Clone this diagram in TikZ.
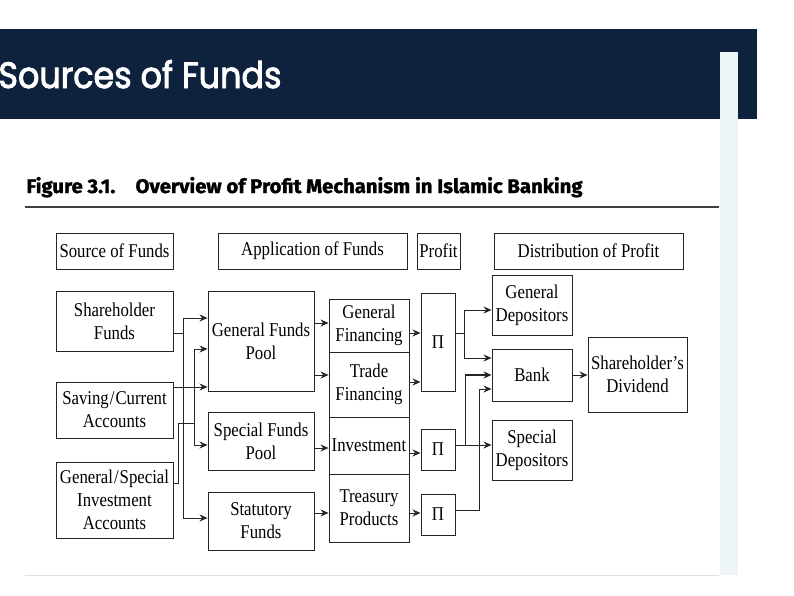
\documentclass[tikz,border=0pt]{standalone}
\usepackage{graphicx}
\usepackage{fontspec}
\setmainfont{Liberation Serif}
\newfontfamily\boxfont[FakeStretch=0.86, Ligatures=TeX]{Liberation Serif}
\newfontfamily\headfont[FakeBold=2.5]{Poppins}
\newfontfamily\capfont[FakeBold=1.5]{Fira Sans}
\usetikzlibrary{arrows.meta, positioning}

\definecolor{navyband}{HTML}{0E223D}
\definecolor{palebar}{HTML}{EDF5F9}

\begin{document}
\begin{tikzpicture}[x=1pt, y=-1pt, line width=0.9pt,
    box/.style={draw=black!85, rectangle, inner sep=1pt, align=center, font=\boxfont\fontsize{19.5}{23}\selectfont},
    flow/.style={-{Stealth[length=8pt,width=7pt]}, draw=black!85}]
    \useasboundingbox (0,0) rectangle (794,595);

    % Slide header
    \fill[navyband] (0,29) rectangle (757,119);
    \fill[palebar] (720,52) rectangle (738,575);
    \node (slidetitle) [anchor=base west, inner sep=0, text=white] at (-2,88) {\resizebox{283pt}{28pt}{\headfont Sources of Funds}};

    % Figure caption
    \node (figtitle) [anchor=base west, inner sep=0] at (26,193) {\resizebox{556pt}{16pt}{\capfont\bfseries Figure 3.1.\quad Overview of Profit Mechanism in Islamic Banking}};
    \draw[black!75, line width=1.2pt] (25,207) -- (719,207);
    \draw[black!12] (25,575) -- (719,575);

    % Column headings
    \node (srchead) [box, minimum width=117pt, minimum height=36pt] at (114.5,251) {Source of Funds};
    \node (apphead) [box, minimum width=189pt, minimum height=36pt] at (312.5,251) {Application of Funds};
    \node (profhead) [box, minimum width=43pt, minimum height=36pt] at (438.5,251) {Profit};
    \node (disthead) [box, minimum width=189pt, minimum height=36pt] at (588.5,251) {Distribution of Profit};

    % Sources
    \node (shf) [box, minimum width=117pt, minimum height=60pt] at (114.5,321) {Shareholder\\Funds};
    \node (sca) [box, minimum width=117pt, minimum height=56pt] at (114.5,410) {Saving\kern1pt/\kern1ptCurrent\\Accounts};
    \node (gsi) [box, minimum width=117pt, minimum height=76pt] at (114.5,500) {General\kern1pt/\kern1ptSpecial\\Investment\\Accounts};

    % Pools
    \node (gfp) [box, minimum width=106pt, minimum height=100pt] at (261,341) {General Funds\\Pool};
    \node (sfp) [box, minimum width=106pt, minimum height=58pt] at (261,441) {Special Funds\\Pool};
    \node (stf) [box, minimum width=106pt, minimum height=58pt] at (261,521) {Statutory\\Funds};

    % Applications
    \node (gfin) [box, minimum width=80pt, minimum height=53pt] at (369,325.5) {General\\Financing};
    \node (tfin) [box, minimum width=80pt, minimum height=65pt] at (369,384.5) {Trade\\Financing};
    \node (inv) [box, minimum width=80pt, minimum height=57pt] at (369,445.5) {Investment};
    \node (trs) [box, minimum width=80pt, minimum height=68pt] at (369,508) {Treasury\\Products};

    % Profit
    \node (pione) [box, minimum width=34pt, minimum height=98pt] at (438,342) {Π};
    \node (pitwo) [box, minimum width=34pt, minimum height=41pt] at (438,449.5) {Π};
    \node (pithree) [box, minimum width=34pt, minimum height=41pt] at (438,514.5) {Π};

    % Distribution
    \node (gdep) [box, minimum width=80pt, minimum height=60pt] at (532,305) {General\\Depositors};
    \node (bank) [box, minimum width=80pt, minimum height=52pt] at (532,375) {Bank};
    \node (sdep) [box, minimum width=80pt, minimum height=60pt] at (532,450) {Special\\Depositors};
    \node (div) [box, minimum width=99pt, minimum height=75pt] at (637.5,374.5) {Shareholder’s\\Dividend};

    % Sources to pools
    \draw[black!85] ([yshift=-12pt]shf.east) -- ++(10pt,0) coordinate (jshf);
    \draw[flow] (jshf) |- ([yshift=23pt]gfp.west);
    \draw[flow] (jshf) |- ([yshift=3pt]stf.west);
    \draw[flow] ([yshift=23pt]sca.east) -- ([yshift=23pt]sca.east -| gfp.west);
    \draw[black!85] ([yshift=17pt]gsi.east) -- ++(5pt,0) |- ([xshift=21pt,yshift=-13pt]sca.east) coordinate (jgsi);
    \draw[flow] (jgsi) |- ([yshift=-8pt]gfp.west);
    \draw[flow] (jgsi) |- ([yshift=-4pt]sfp.west);

    % Pools to applications
    \draw[flow] ([yshift=18pt]gfp.east) -- ([yshift=18pt]gfp.east -| gfin.west);
    \draw[flow] ([yshift=-34pt]gfp.east) -- ([yshift=-34pt]gfp.east -| tfin.west);
    \draw[flow] ([yshift=-7pt]sfp.east) -- ([yshift=-7pt]sfp.east -| inv.west);
    \draw[flow] ([yshift=8pt]stf.east) -- ([yshift=8pt]stf.east -| trs.west);

    % Applications to profit
    \draw[flow] ([yshift=-7.5pt]gfin.east) -- ([yshift=-7.5pt]gfin.east -| pione.west);
    \draw[flow] ([yshift=2.5pt]tfin.east) -- ([yshift=2.5pt]tfin.east -| pione.west);
    \draw[flow] ([yshift=-7.5pt]inv.east) -- ([yshift=-7.5pt]inv.east -| pitwo.west);
    \draw[flow] ([yshift=-5pt]trs.east) -- ([yshift=-5pt]trs.east -| pithree.west);

    % Profit to distribution
    \draw[black!85] ([yshift=9pt]pione.east) -- ++(9pt,0) coordinate (jpone);
    \draw[flow] (jpone) |- ([yshift=-5pt]gdep.west);
    \draw[flow] (jpone) |- ([yshift=17pt]bank.west);
    \draw[flow] ([yshift=4.5pt]pitwo.east) -- ([yshift=4.5pt]pitwo.east -| sdep.west);
    \coordinate (jptwo) at ([xshift=10pt,yshift=4.5pt]pitwo.east);
    \draw[flow, line width=1.6pt] (jptwo) |- (bank.west);
    \draw[flow] ([yshift=4.5pt]pithree.east) -- ++(24pt,0) |- ([yshift=-14pt]bank.west);
    \draw[flow] (bank.east) -- (bank.east -| div.west);
\end{tikzpicture}
\end{document}
